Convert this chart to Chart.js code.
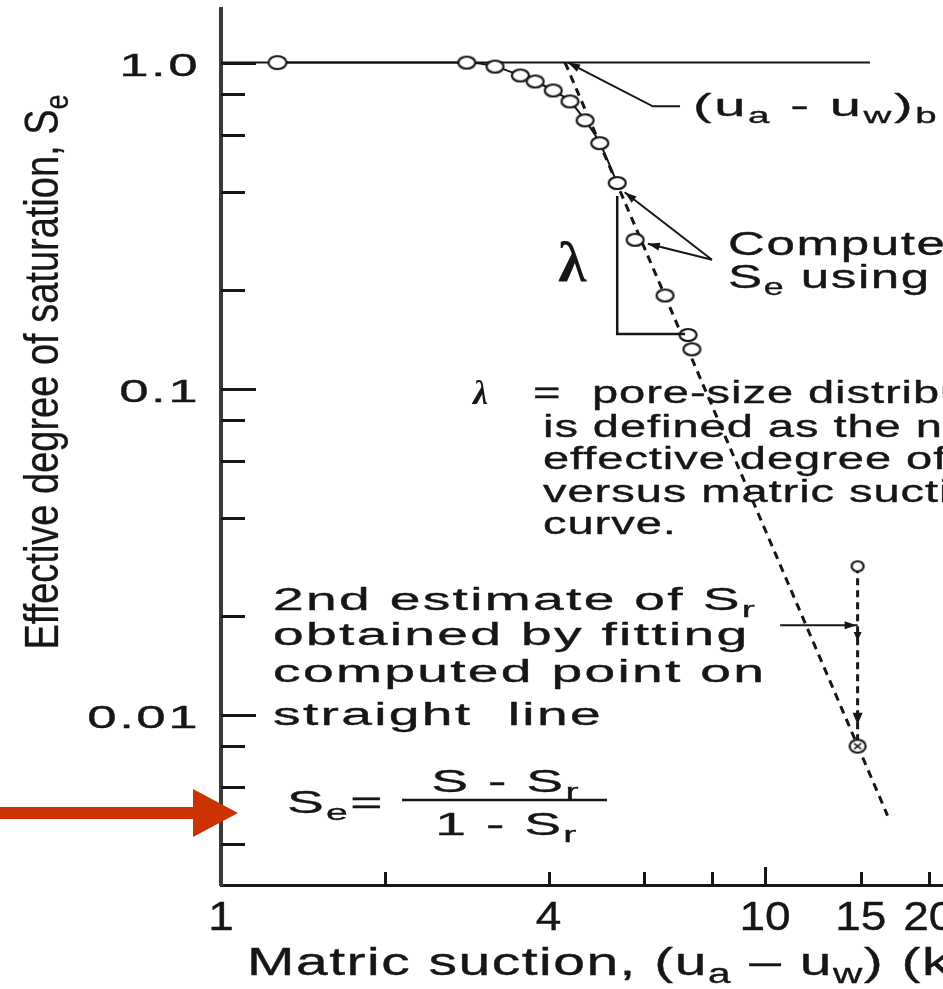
<!DOCTYPE html>
<html>
<head>
<meta charset="utf-8">
<title>Effective degree of saturation versus matric suction</title>
<script src="https://cdn.jsdelivr.net/npm/chart.js@4.4.1/dist/chart.umd.min.js"></script>
<style>
  html, body { margin: 0; padding: 0; background: #fff; overflow: hidden; }
  #wrap { width: 943px; height: 989px; overflow: hidden; }
  canvas { display: block; }
</style>
</head>
<body>
<div id="wrap"><canvas id="swcc" width="1150" height="989"></canvas></div>
<script>
// measured drying curve
var suction = [1.27, 2.83, 3.19, 3.55, 3.78, 4.08, 4.38, 4.67, 4.97, 5.35];
var saturation = [1.0, 1.0, 0.972, 0.913, 0.875, 0.821, 0.760, 0.665, 0.566, 0.427];

// Se computed with the first estimate of Sr
var computedSuction = [5.77, 6.55, 7.22, 7.34];
var computedSaturation = [0.286, 0.193, 0.146, 0.132];

// straight line through the steep part of the curve
var lineSuction = [4.29, 16.8];
var lineSaturation = [1.0, 0.0049];

// Se = 1 reference line
var fullSuction = [1, 15.6];
var fullSaturation = [1, 1];

// second estimate of Sr, point moved down onto the line
var estimateSuction = [14.8, 14.8];
var estimateSaturation = [0.0285, 0.0080];

// axis ticks
var xTicks = [2, 4, 6, 8, 10, 15, 20];
var xTickLabels = [1, 4, 10, 15, 20];
var yTicks = [0.8, 0.6, 0.4, 0.2, 0.08, 0.06, 0.04, 0.02, 0.008, 0.006, 0.004];
var yTickLabels = [1, 0.1, 0.01];
var yTickText = ['1.0', '0.1', '0.01'];

var ink = '#161616';
var sans = '"Liberation Sans", Arial, Helvetica, sans-serif';
var serif = '"Liberation Serif", "Times New Roman", serif';

function pts(xs, ys) {
  return xs.map(function (x, i) { return { x: x, y: ys[i] }; });
}

// open (or crossed) ellipse used as point marker
function ring(w, h, cross) {
  var c = document.createElement('canvas');
  c.width = w + 4;
  c.height = h + 4;
  var g = c.getContext('2d');
  var cx = c.width / 2, cy = c.height / 2;
  g.beginPath();
  g.ellipse(cx, cy, w / 2, h / 2, 0, 0, Math.PI * 2);
  g.fillStyle = '#fff';
  g.fill();
  g.lineWidth = 2.2;
  g.strokeStyle = ink;
  g.stroke();
  if (cross) {
    g.lineWidth = 1.5;
    g.beginPath();
    g.moveTo(cx - w * 0.22, cy - h * 0.22);
    g.lineTo(cx + w * 0.22, cy + h * 0.22);
    g.moveTo(cx + w * 0.22, cy - h * 0.22);
    g.lineTo(cx - w * 0.22, cy + h * 0.22);
    g.stroke();
  }
  return c;
}

var dot = ring(17, 12);
var firstDot = ring(18, 13);
var smallDot = ring(12, 10);
var crossDot = ring(16, 13, true);

// text with _{sub} parts, stretched sideways and thickened a little
function parseRich(str) {
  var out = [], re = /_\{([^}]*)\}/g, last = 0, m;
  while ((m = re.exec(str))) {
    if (m.index > last) out.push({ t: str.slice(last, m.index), sub: false });
    out.push({ t: m[1], sub: true });
    last = re.lastIndex;
  }
  if (last < str.length) out.push({ t: str.slice(last), sub: false });
  return out;
}

function fontFor(st, sub) {
  var size = Math.round(sub ? st.size * 0.7 : st.size);
  return (st.style || 'normal') + ' ' + size + 'px ' + (st.family || sans);
}

function richText(ctx, str, x, y, st, align) {
  var segs = parseRich(str);
  ctx.save();
  ctx.translate(x, y);
  ctx.scale(st.sx || 1, 1);
  ctx.letterSpacing = (st.ls || 0) + 'px';
  ctx.textBaseline = 'alphabetic';
  ctx.textAlign = 'left';
  ctx.fillStyle = ink;
  ctx.strokeStyle = ink;
  ctx.lineWidth = st.heavy !== undefined ? st.heavy : 0.35;
  ctx.lineJoin = 'round';
  var total = 0;
  segs.forEach(function (s) {
    ctx.font = fontFor(st, s.sub);
    s.w = ctx.measureText(s.t).width;
    total += s.w;
  });
  var cx = align === 'right' ? -total : (align === 'center' ? -total / 2 : 0);
  segs.forEach(function (s) {
    ctx.font = fontFor(st, s.sub);
    var dy = s.sub ? st.size * 0.22 : 0;
    ctx.fillText(s.t, cx, dy);
    if (ctx.lineWidth > 0) ctx.strokeText(s.t, cx, dy);
    cx += s.w;
  });
  ctx.restore();
}

function polyline(ctx, p, w) {
  ctx.save();
  ctx.strokeStyle = ink;
  ctx.lineWidth = w;
  ctx.beginPath();
  ctx.moveTo(p[0][0], p[0][1]);
  for (var i = 1; i < p.length; i++) ctx.lineTo(p[i][0], p[i][1]);
  ctx.stroke();
  ctx.restore();
}

function arrowHead(ctx, fx, fy, tx, ty, len, half) {
  var a = Math.atan2(ty - fy, tx - fx);
  ctx.save();
  ctx.fillStyle = ink;
  ctx.translate(tx, ty);
  ctx.rotate(a);
  ctx.beginPath();
  ctx.moveTo(0, 0);
  ctx.lineTo(-len, -half);
  ctx.lineTo(-len, half);
  ctx.closePath();
  ctx.fill();
  ctx.restore();
}

var noteStyle = { size: 31, sx: 1.78, ls: 1.3 };
var defStyle = { size: 31, sx: 1.52, ls: 0.6 };
var tickStyle = { size: 32, sx: 1.65, ls: 1.5 };
var xTickStyle = { size: 40, sx: 1.15, ls: 0 };

var notes = {
  id: 'notes',
  afterDraw: function (chart) {
    var ctx = chart.ctx, xs = chart.scales.x, ys = chart.scales.y, area = chart.chartArea;
    function px(v) { return xs.getPixelForValue(v); }
    function py(v) { return ys.getPixelForValue(v); }
    function P(a, b) { return [px(a), py(b)]; }

    // tick marks point into the plot
    ctx.save();
    ctx.strokeStyle = ink;
    ctx.lineWidth = 3;
    yTickLabels.concat(yTicks).forEach(function (v) {
      var len = yTickLabels.indexOf(v) >= 0 ? 35 : 24;
      var y = Math.round(py(v)) + 0.5;
      ctx.beginPath();
      ctx.moveTo(area.left, y);
      ctx.lineTo(area.left + len, y);
      ctx.stroke();
    });
    xTicks.forEach(function (v) {
      var len = v === 10 ? 18 : 13;
      var x = Math.round(px(v)) + 0.5;
      ctx.beginPath();
      ctx.moveTo(x, area.bottom);
      ctx.lineTo(x, area.bottom - len);
      ctx.stroke();
    });
    ctx.restore();

    // tick labels
    yTickLabels.forEach(function (v, i) {
      richText(ctx, yTickText[i], 200, py(v) + 13, tickStyle, 'right');
    });
    xTickLabels.forEach(function (v) {
      richText(ctx, String(v), px(v), area.bottom + 45, xTickStyle, 'center');
    });

    // axis titles
    ctx.save();
    ctx.translate(58, 372);
    ctx.rotate(-Math.PI / 2);
    ctx.scale(1, 1.25);
    richText(ctx, 'Effective degree of saturation, S_{e}', 0, 0, { size: 38, heavy: 0.2 }, 'center');
    ctx.restore();
    richText(ctx, 'Matric suction, (u_{a} \u2013 u_{w}) (kPa)', 247, 975, { size: 38, sx: 1.5, ls: 1 }, 'left');

    // air-entry value leader
    var ae = [P(6.98, 0.734), P(6.22, 0.734), P(4.345, 1.0)];
    polyline(ctx, ae, 2);
    arrowHead(ctx, ae[1][0], ae[1][1], ae[2][0], ae[2][1], 12, 4);
    richText(ctx, '(u_{a} - u_{w})_{b}', 693, 116, { size: 32, sx: 1.75, ls: 1.5 }, 'left');

    // computed Se leaders
    var join = P(7.99, 0.2485);
    [P(5.52, 0.40), P(6.09, 0.278)].forEach(function (tip) {
      polyline(ctx, [join, tip], 2);
      arrowHead(ctx, join[0], join[1], tip[0], tip[1], 12, 4);
    });
    richText(ctx, 'Computed', 728, 255, { size: 33, sx: 1.55, ls: 1 }, 'left');
    richText(ctx, 'S_{e} using', 728, 288, { size: 33, sx: 1.55, ls: 1 }, 'left');

    // slope triangle
    polyline(ctx, [P(5.35, 0.39), P(5.35, 0.147), P(7.13, 0.147)], 2.5);
    ctx.save();
    ctx.fillStyle = ink;
    ctx.font = 'bold 58px ' + serif;
    ctx.textAlign = 'left';
    ctx.fillText('\u03bb', 558, 281);
    ctx.restore();

    // definition of lambda
    ctx.save();
    ctx.fillStyle = ink;
    ctx.font = 'italic bold 34px ' + serif;
    ctx.fillText('\u03bb', 473, 404);
    ctx.restore();
    richText(ctx, '=', 533, 403, defStyle, 'left');
    richText(ctx, 'pore-size distribution index, which', 592, 403, defStyle, 'left');
    richText(ctx, 'is defined as the negative slope of the', 543, 437, defStyle, 'left');
    richText(ctx, 'effective degree of saturation', 543, 469, defStyle, 'left');
    richText(ctx, 'versus matric suction', 543, 502, defStyle, 'left');
    richText(ctx, 'curve.', 543, 534, defStyle, 'left');

    // second estimate of Sr
    richText(ctx, '2nd estimate of S_{r}', 273, 610, noteStyle, 'left');
    richText(ctx, 'obtained by fitting', 273, 645, noteStyle, 'left');
    richText(ctx, 'computed point on', 273, 682, noteStyle, 'left');
    richText(ctx, 'straight  line', 273, 725, noteStyle, 'left');
    var h0 = P(10.66, 0.0188), h1 = P(14.8, 0.0188);
    polyline(ctx, [h0, h1], 2);
    arrowHead(ctx, h0[0], h0[1], h1[0] - 1, h1[1], 12, 4);
    [0.0168, 0.0093].forEach(function (v, i) {
      var t = P(14.8, v);
      arrowHead(ctx, t[0], t[1] - 10, t[0], t[1], i ? 12 : 9, i ? 5 : 4);
    });

    // Se formula
    richText(ctx, 'S_{e}=', 287, 813, noteStyle, 'left');
    richText(ctx, 'S - S_{r}', 506, 792, noteStyle, 'center');
    polyline(ctx, [[402, 800], [607, 800]], 2.5);
    richText(ctx, '1 - S_{r}', 507, 835, noteStyle, 'center');

    // pointer arrow
    ctx.save();
    ctx.fillStyle = '#cc3300';
    ctx.fillRect(0, 807, 196, 12);
    ctx.beginPath();
    ctx.moveTo(193, 789);
    ctx.lineTo(238, 813);
    ctx.lineTo(193, 837);
    ctx.closePath();
    ctx.fill();
    ctx.restore();
  }
};

new Chart(document.getElementById('swcc'), {
  type: 'scatter',
  data: {
    datasets: [
      {
        data: pts(suction, saturation),
        showLine: true,
        borderColor: ink,
        borderWidth: 2,
        cubicInterpolationMode: 'monotone',
        pointStyle: suction.map(function (v, i) { return i === 0 ? firstDot : dot; }),
        pointRadius: 6
      },
      {
        data: pts(computedSuction, computedSaturation),
        showLine: false,
        pointStyle: dot,
        pointRadius: 6
      },
      {
        data: pts(estimateSuction, estimateSaturation),
        showLine: true,
        borderColor: ink,
        borderWidth: 3,
        borderDash: [7, 5],
        pointStyle: [smallDot, crossDot],
        pointRadius: 6
      },
      {
        data: pts(lineSuction, lineSaturation),
        showLine: true,
        borderColor: ink,
        borderWidth: 3,
        borderDash: [8, 6],
        pointRadius: 0
      },
      {
        data: pts(fullSuction, fullSaturation),
        showLine: true,
        borderColor: ink,
        borderWidth: 2,
        pointRadius: 0
      }
    ]
  },
  options: {
    responsive: false,
    animation: false,
    events: [],
    layout: { padding: { left: 0, right: 57.5, top: 5, bottom: 0 } },
    plugins: { legend: { display: false }, tooltip: { enabled: false } },
    scales: {
      x: {
        type: 'logarithmic',
        min: 1,
        max: 40,
        afterBuildTicks: function (s) {
          s.ticks = [1].concat(xTicks).map(function (v) { return { value: v }; });
        },
        afterFit: function (s) { s.height = 104; },
        grid: { display: false },
        border: { display: true, width: 3, color: ink },
        ticks: { display: false }
      },
      y: {
        type: 'logarithmic',
        min: 0.003,
        max: 1.46,
        afterBuildTicks: function (s) {
          s.ticks = yTickLabels.concat(yTicks).map(function (v) { return { value: v }; });
        },
        afterFit: function (s) { s.width = 221; },
        grid: { display: false },
        border: { display: true, width: 4, color: '#3a3a3a' },
        ticks: { display: false }
      }
    }
  },
  plugins: [notes]
});
</script>
</body>
</html>
